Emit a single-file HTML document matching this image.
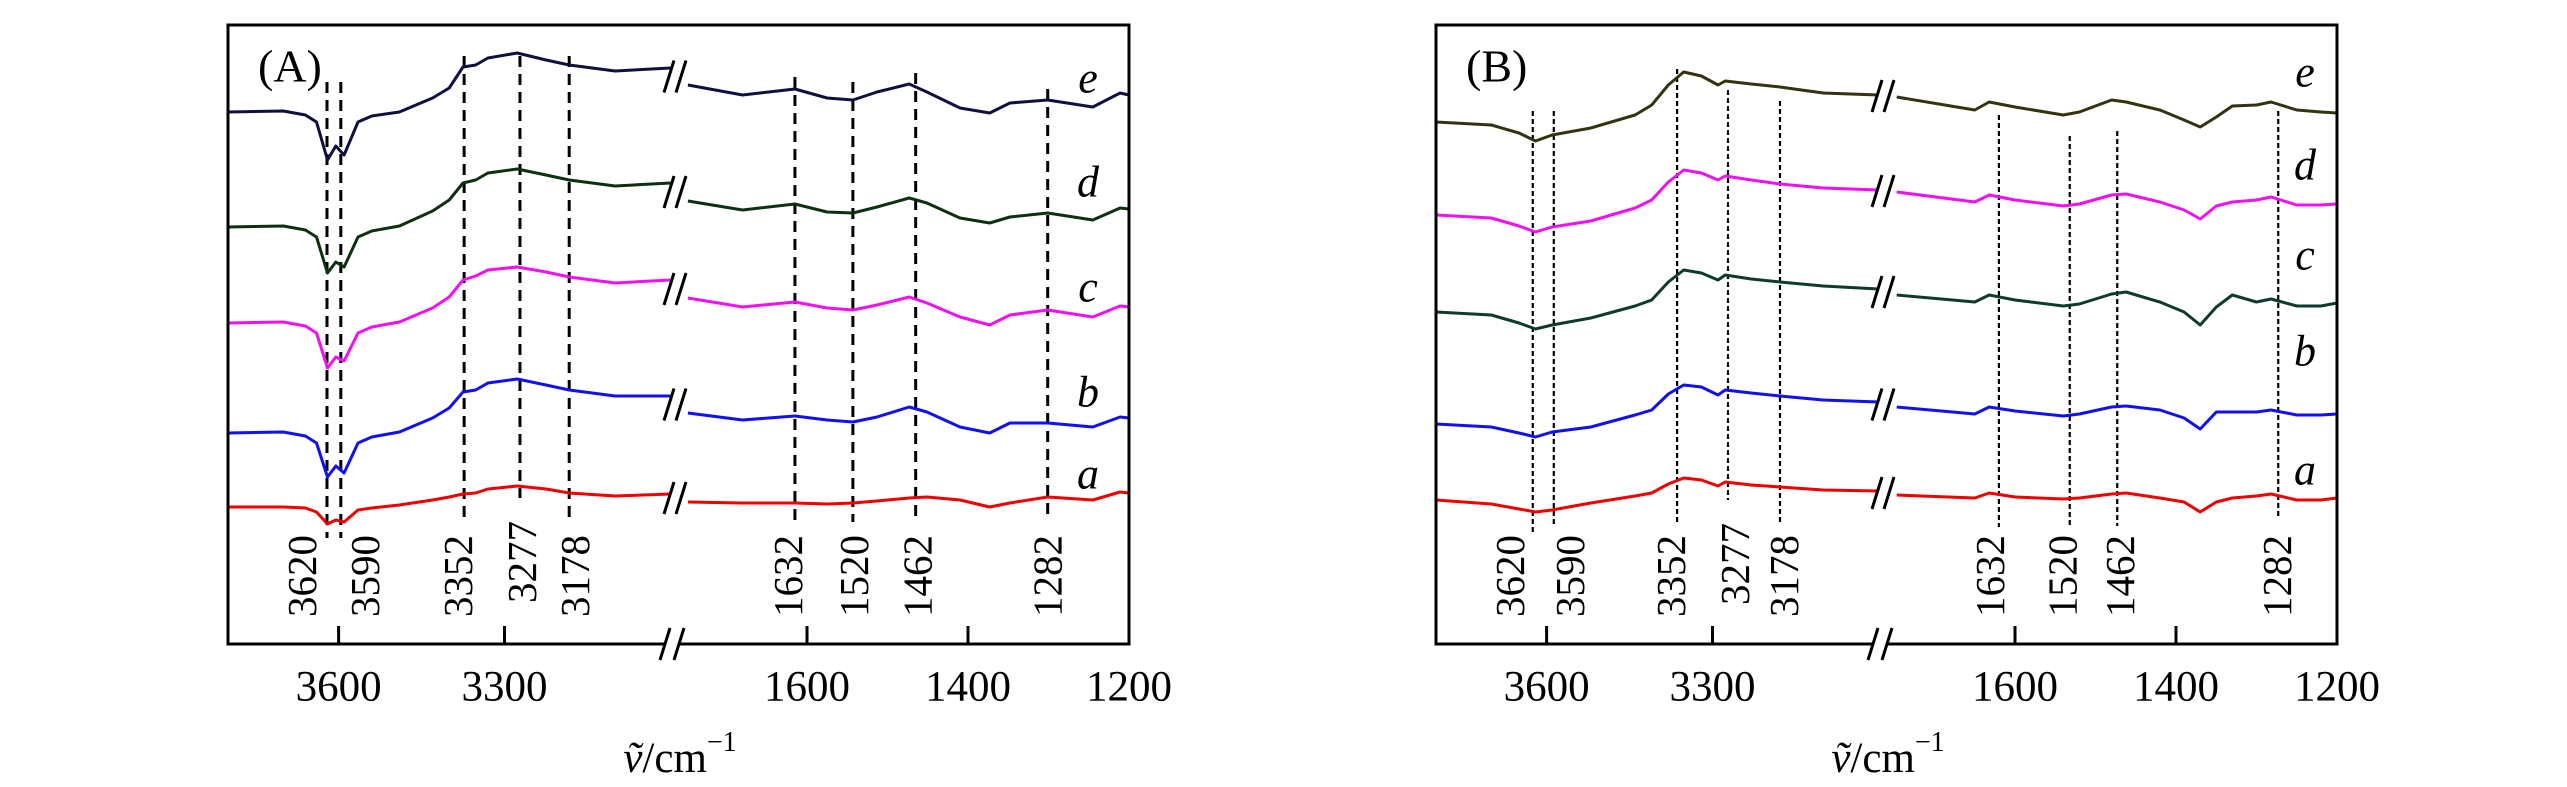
<!DOCTYPE html>
<html><head><meta charset="utf-8"><title>FTIR spectra (A) and (B)</title>
<style>
html,body{margin:0;padding:0;background:#fff;}
svg{display:block;font-family:"Liberation Serif","Times New Roman",serif;}
</style></head>
<body>
<svg id="chart" width="2567" height="787" viewBox="0 0 2567 787" xmlns="http://www.w3.org/2000/svg"></svg>
<script>
// ---- shared axis data ----
const tickLeft = [3600, 3300];
const tickRight = [1600, 1400, 1200];
const seriesNames = ['a','b','c','d','e'];

// ---- Panel A data (intensity, a.u., offset stacked) ----
const wnLeftA = [3800,3700,3660,3640,3620,3605,3590,3565,3540,3490,3430,3400,3375,3352,3330,3277,3225,3183,3100,3000];
const A_e_left = [53.2,53.3,52.9,52.2,48.4,49.8,48.9,52.2,52.8,53.2,54.6,55.6,57.7,57.9,58.6,59.1,58.4,57.9,57.3,57.6];
const A_d_left = [41.7,41.8,41.4,40.7,37.1,38.2,37.7,40.7,41.3,41.8,43.3,44.4,46.1,46.4,47.1,47.5,46.9,46.4,45.8,46.1];
const A_c_left = [32.1,32.2,31.8,31.1,27.6,28.7,28.3,31.1,31.7,32.2,33.6,34.7,36.4,36.8,37.4,37.7,37.2,36.7,36.1,36.4];
const A_b_left = [21.1,21.2,20.8,20.1,16.7,17.8,17.1,20.1,20.7,21.2,22.6,23.6,25.2,25.4,26.1,26.5,25.9,25.4,24.8,24.8];
const A_a_left = [13.7,13.7,13.6,13.2,12.0,12.4,12.2,13.4,13.6,13.9,14.4,14.7,15.0,15.1,15.5,15.8,15.5,15.1,14.8,15.0];
const wnRightA = [1748,1680,1615,1575,1543,1513,1473,1451,1410,1373,1348,1301,1245,1211,1200];
const A_e_right = [55.9,54.9,55.5,54.6,54.4,55.2,56.0,55.2,53.6,53.1,54.1,54.4,53.7,55.1,54.9];
const A_d_right = [44.3,43.4,44.0,43.2,43.1,43.7,44.6,44.1,42.6,42.1,42.7,43.1,42.4,43.6,43.5];
const A_c_right = [34.6,33.7,34.2,33.6,33.4,33.9,34.7,34.1,32.7,31.9,32.9,33.4,32.7,33.8,33.7];
const A_b_right = [23.1,22.4,22.8,22.4,22.2,22.7,23.7,23.2,21.7,21.1,22.1,22.1,21.7,22.7,22.6];
const A_a_right = [14.2,14.1,14.1,14.0,14.1,14.3,14.6,14.7,14.4,13.7,14.1,14.7,14.4,15.2,15.1];
const peakLabelsLeft = ['3620','3590','3352','3277','3178'];
const peakLabelsRight = ['1632','1520','1462','1282'];
const peakPosLeftA = [3621,3596,3373,3272,3183];
const peakPosRightA = [1615,1543,1465,1301];

// ---- Panel B data ----
const wnLeftB = [3800,3700,3650,3620,3590,3520,3440,3410,3380,3352,3320,3290,3277,3230,3178,3100,3000];
const B_e_left = [52.2,51.9,51.1,50.3,50.9,51.6,52.9,53.9,55.9,57.2,56.8,55.9,56.3,56.0,55.7,55.1,54.9];
const B_d_left = [42.9,42.6,41.8,41.2,41.7,42.3,43.6,44.4,46.2,47.4,47.1,46.4,46.8,46.4,46.0,45.6,45.4];
const B_c_left = [33.2,32.9,32.1,31.5,31.9,32.6,33.8,34.4,36.2,37.4,37.1,36.4,36.9,36.5,36.2,35.8,35.5];
const B_b_left = [22.0,21.7,21.1,20.7,21.2,21.7,22.9,23.4,25.0,25.9,25.7,24.9,25.4,25.1,24.8,24.4,24.2];
const B_a_left = [14.4,14.0,13.5,13.2,13.4,14.1,14.8,15.1,16.0,16.6,16.4,15.8,16.2,15.9,15.7,15.4,15.3];
const wnRightB = [1747,1650,1632,1600,1540,1520,1480,1462,1420,1390,1370,1350,1330,1300,1282,1250,1220,1200];
const B_e_right = [54.7,53.4,54.2,53.7,52.9,53.2,54.4,54.2,53.4,52.4,51.7,52.7,53.8,53.9,54.2,53.4,53.2,53.1];
const B_d_right = [45.2,44.2,44.9,44.4,43.8,44.0,44.9,45.0,44.2,43.4,42.5,43.8,44.2,44.4,44.7,43.9,43.9,44.0];
const B_c_right = [34.9,34.2,34.9,34.4,33.8,34.0,35.0,35.2,34.2,33.2,31.9,33.7,34.9,34.2,34.5,33.8,33.8,34.1];
const B_b_right = [23.7,23.0,23.7,23.3,22.8,23.0,23.7,23.8,23.4,22.6,21.5,23.2,23.2,23.2,23.4,22.9,22.9,23.0];
const B_a_right = [14.9,14.6,15.1,14.7,14.5,14.6,15.0,15.1,14.6,14.2,13.2,14.2,14.6,14.8,15.0,14.4,14.4,14.6];
const peakPosLeftB = [3625,3587,3364,3272,3178];
const peakPosRightB = [1620,1532,1473,1273];

// ---- styling (not data) ----
const NS = 'http://www.w3.org/2000/svg';
const svg = document.getElementById('chart');
function mk(tag, attrs, parent){const e=document.createElementNS(NS,tag);for(const k in attrs)e.setAttribute(k,attrs[k]);(parent||svg).appendChild(e);return e;}

const panels = [
  {id:'a-panel', x0:228, tag:'(A)', dash:'11 7', dw:3,
   wnL:wnLeftA, wnR:wnRightA,
   L:{a:A_a_left,b:A_b_left,c:A_c_left,d:A_d_left,e:A_e_left},
   R:{a:A_a_right,b:A_b_right,c:A_c_right,d:A_d_right,e:A_e_right},
   colors:{a:'#f00000',b:'#1010f0',c:'#f010f0',d:'#0d3010',e:'#101040'},
   pL:peakPosLeftA, pR:peakPosRightA,
   topsL:[82,82,56,56,56], botL:[538,538,522,498,522], dxL:[-25,24,-6,2,6], lbL:[617,617,617,603,617],
   topsR:[77,82,73,89], botR:[523,522,520,516], dxR:[-7,1,2,0], lbR:[617,617,617,617],
   letterX:1088, letterY:{e:78,d:182,c:287,b:392,a:474}, titleX:680},
  {id:'b-panel', x0:1436, tag:'(B)', dash:'5 3', dw:2.2,
   wnL:wnLeftB, wnR:wnRightB,
   L:{a:B_a_left,b:B_b_left,c:B_c_left,d:B_d_left,e:B_e_left},
   R:{a:B_a_right,b:B_b_right,c:B_c_right,d:B_d_right,e:B_e_right},
   colors:{a:'#f00000',b:'#1010f0',c:'#0f3a30',d:'#f010f0',e:'#33330f'},
   pL:peakPosLeftB, pR:peakPosRightB,
   topsL:[111,111,69,90,101], botL:[532,527,523,500,523], dxL:[-23,16,-6,7,4], lbL:[617,617,617,605,617],
   topsR:[115,136,131,111], botR:[527,528,526,518], dxR:[-9,-7,3,-1], lbR:[617,617,617,617],
   letterX:2305, letterY:{e:72,d:165,c:255,b:351,a:470}, titleX:1888}
];

const TOP=25, BOT=644, W=901;
panels.forEach(p=>{
  const g = mk('g',{});
  
  
  const xL = v => p.x0 + (3800 - v) * 0.553;
  const xR = v => p.x0 + W - (v - 1200) * 0.805;
  const yS = v => BOT - v * 10;

  // peak reference lines + labels
  const drawPeaks = (pos, labels, xf, tops, bots, dxs, lbs, side) => {
    pos.forEach((v,i)=>{
      const x = xf(v);
      const ln = mk('line',{x1:x,y1:tops[i],x2:x,y2:bots[i],stroke:'#000','stroke-width':p.dw,'stroke-dasharray':p.dash},g);
      
      
      const tx = x + dxs[i], ty = lbs[i];
      const t = mk('text',{x:tx,y:ty,transform:`rotate(-90 ${tx} ${ty})`,'font-size':41,'dominant-baseline':'central','text-anchor':'start',fill:'#000'},g);
      t.textContent = labels[i];
      
      
    });
  };
  drawPeaks(p.pL, peakLabelsLeft, xL, p.topsL, p.botL, p.dxL, p.lbL);
  drawPeaks(p.pR, peakLabelsRight, xR, p.topsR, p.botR, p.dxR, p.lbR);

  // series
  seriesNames.forEach(s=>{
    const l = p.L[s], r = p.R[s];
    const dL = l.map((v,i)=>(i?'L':'M')+xL(p.wnL[i]).toFixed(1)+' '+yS(v).toFixed(1)).join(' ');
    const dR = r.map((v,i)=>(i?'L':'M')+xR(p.wnR[i]).toFixed(1)+' '+yS(v).toFixed(1)).join(' ');
    const pl = mk('path',{d:dL,fill:'none',stroke:p.colors[s],'stroke-width':3,'stroke-linejoin':'round'},g);
    
    
    const pr = mk('path',{d:dR,fill:'none',stroke:p.colors[s],'stroke-width':3,'stroke-linejoin':'round'},g);
    
    
    // break mark
    const yb = (yS(l[l.length-1]) + yS(r[0])) / 2;
    const bx = p.x0 + 446;
    const bk = mk('path',{d:`M${bx-10} ${yb+16} L${bx} ${yb-16} M${bx+2} ${yb+16} L${bx+12} ${yb-16}`,stroke:'#000','stroke-width':3,fill:'none'},g);
    
    
    const lt = mk('text',{x:p.letterX,y:p.letterY[s],'font-size':44,'font-style':'italic','text-anchor':'middle','dominant-baseline':'central',fill:'#000'},g);
    lt.textContent = s;
    
    
  });

  // frame
  const fr = mk('rect',{x:p.x0,y:TOP,width:W,height:BOT-TOP,fill:'none',stroke:'#000','stroke-width':3},g);
  
  
  // axis break
  const ax = p.x0 + 446;
  const gap = mk('rect',{x:ax-8,y:BOT-3,width:14,height:6,fill:'#fff'},g);
  
  
  const ab = mk('path',{d:`M${ax-14} ${BOT+16} L${ax-4} ${BOT-16} M${ax} ${BOT+16} L${ax+10} ${BOT-16}`,stroke:'#000','stroke-width':3,fill:'none'},g);
  
  

  // ticks
  const drawTick = (x, label) => {
    if (x < p.x0 + W - 2) {
      const tk = mk('line',{x1:x,y1:BOT,x2:x,y2:BOT-18,stroke:'#000','stroke-width':3},g);
      
      
    }
    const t = mk('text',{x:x,y:687,'font-size':43,'text-anchor':'middle','dominant-baseline':'central',fill:'#000'},g);
    t.textContent = label;
    
    
  };
  tickLeft.forEach(v=>drawTick(xL(v), String(v)));
  tickRight.forEach(v=>drawTick(xR(v), String(v)));

  // axis title
  const tt = mk('text',{x:p.titleX,y:758,'font-size':43,'text-anchor':'middle','dominant-baseline':'central',fill:'#000'},g);
  
  
  const t1 = mk('tspan',{'font-style':'italic'},tt); t1.textContent='ṽ';
  const t2 = mk('tspan',{},tt); t2.textContent='/cm';
  const t3 = mk('tspan',{dy:-16,'font-size':28},tt); t3.textContent='−1';

  // panel tag
  const pt = mk('text',{x:p.x0+30,y:66,'font-size':46,'dominant-baseline':'central',fill:'#000'},g);
  pt.textContent = p.tag;
  
  
});
</script>
</body></html>
